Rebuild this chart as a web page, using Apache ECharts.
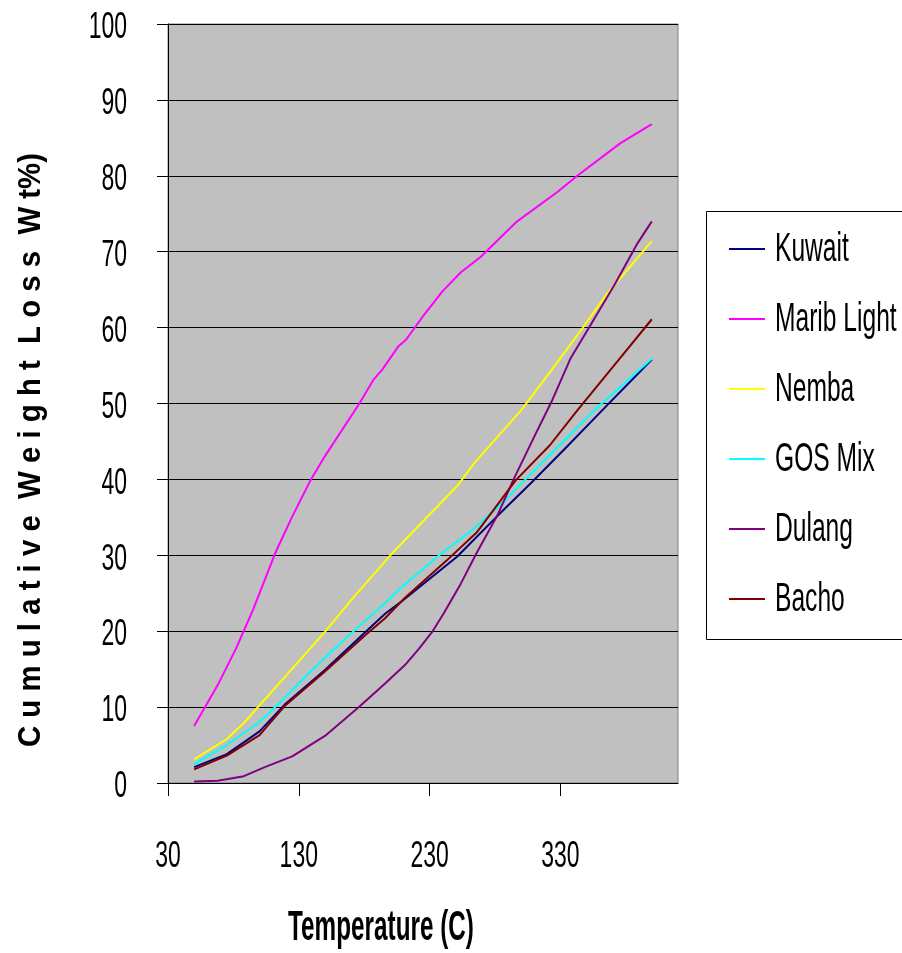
<!DOCTYPE html>
<html>
<head>
<meta charset="utf-8">
<script src="https://cdn.jsdelivr.net/npm/echarts@6/dist/echarts.min.js"></script>
<style>
html,body{margin:0;padding:0;background:#fff;}
#chart{width:902px;height:953px;}
</style>
</head>
<body>
<div id="chart"></div>
<script>
// ---- data (temperature °C, cumulative weight loss wt%) ----
const seriesNames = ['Kuwait', 'Marib Light', 'Nemba', 'GOS Mix', 'Dulang', 'Bacho'];
const seriesColors = ['#000080', '#FF00FF', '#FFFF00', '#00FFFF', '#800080', '#800000'];

const kuwaitT = [50, 75, 100, 119, 150, 181, 196, 210, 251, 282, 308, 335, 362, 400];
const kuwaitW = [2.1, 3.8, 6.8, 10.3, 14.9, 19.9, 22.3, 24.1, 29.8, 35.2, 39.6, 44.3, 49.1, 55.8];

const maribT = [50, 68, 82, 95, 112, 125, 139, 149, 176, 187, 194, 206, 212, 225, 240, 254, 269, 297, 328, 343, 376, 400];
const maribW = [7.5, 12.9, 17.7, 22.8, 30.3, 35.1, 39.9, 42.8, 49.9, 53.1, 54.5, 57.5, 58.4, 61.5, 64.8, 67.3, 69.3, 74.0, 77.9, 80.0, 84.3, 86.8];

const nembaT = [50, 75, 88, 150, 170, 200, 252, 264, 300, 325, 346, 366, 400];
const nembaW = [3.1, 5.8, 7.9, 19.9, 24.1, 30.0, 39.3, 42.1, 49.1, 54.8, 59.7, 64.5, 71.4];

const gosT = [50, 75, 99, 112, 139, 163, 196, 206, 238, 264, 287, 305, 330, 356, 400];
const gosW = [2.5, 5.0, 7.9, 10.0, 14.7, 18.6, 23.7, 25.4, 30.1, 33.5, 37.1, 40.3, 44.6, 49.1, 55.9];

const dulangT = [50, 68, 88, 104, 125, 150, 176, 196, 211, 222, 232, 241, 254, 266, 282, 294, 310, 324, 338, 352, 372, 389, 400];
const dulangW = [0.2, 0.3, 0.9, 2.1, 3.5, 6.2, 10.0, 13.1, 15.5, 17.7, 19.9, 22.4, 26.3, 30.3, 35.3, 39.9, 45.6, 50.5, 56.0, 60.0, 65.8, 71.1, 74.0];

const bachoT = [50, 75, 100, 119, 150, 181, 196, 210, 243, 266, 296, 322, 343, 371, 400];
const bachoW = [1.8, 3.6, 6.3, 10.1, 14.7, 19.5, 21.7, 24.2, 29.3, 33.0, 39.9, 44.5, 49.1, 55.0, 61.1];

const xTicks = [30, 130, 230, 330];
const yTicks = [0, 10, 20, 30, 40, 50, 60, 70, 80, 90, 100];

const xTitle = 'Temperature (C)';
const yTitle = 'C u m u l a t i v e  W e i g h t  L o s s  W t%)';

// ---- build ----
const temps = [kuwaitT, maribT, nembaT, gosT, dulangT, bachoT];
const vals = [kuwaitW, maribW, nembaW, gosW, dulangW, bachoW];
const zip = (a, b) => a.map((v, i) => [v, b[i]]);

const FONT = '"Liberation Sans", Arial, sans-serif';

const chart = echarts.init(document.getElementById('chart'), null, {renderer: 'canvas'});
chart.setOption({
  animation: false,
  backgroundColor: '#ffffff',
  grid: {
    left: 168, top: 24, right: 224, bottom: 170,
    show: true, backgroundColor: '#C0C0C0', borderColor: '#808080', borderWidth: 1,
    containLabel: false
  },
  xAxis: {
    type: 'value', min: 30, max: 420, interval: 100,
    axisLine: {show: true, onZero: false, lineStyle: {color: '#000', width: 1}},
    axisTick: {show: true, inside: false, length: 13, customValues: xTicks, lineStyle: {color: '#000'}},
    axisLabel: {show: false},
    splitLine: {show: false}
  },
  yAxis: {
    type: 'value', min: 0, max: 100, interval: 10,
    axisLine: {show: true, onZero: false, lineStyle: {color: '#000', width: 1}},
    axisTick: {show: true, inside: false, length: 11, lineStyle: {color: '#000'}},
    axisLabel: {show: false},
    splitLine: {show: true, lineStyle: {color: '#000', width: 1}}
  },
  series: seriesNames.map((n, i) => ({
    name: n, type: 'line', symbol: 'none', smooth: false,
    data: zip(temps[i], vals[i]),
    lineStyle: {color: seriesColors[i], width: 2},
    itemStyle: {color: seriesColors[i]}
  }))
});

// ---- text placed through the chart's own scales (narrow, tall lettering) ----
const gfx = [];
const LBL = {font: '28px ' + FONT, fill: '#000'};
xTicks.forEach(v => {
  const p = chart.convertToPixel({xAxisIndex: 0, yAxisIndex: 0}, [v, 0]);
  gfx.push({type: 'text', x: p[0], y: p[1] + 74, scaleX: 0.82, scaleY: 1.33,
    style: Object.assign({text: String(v), textAlign: 'center', textVerticalAlign: 'middle'}, LBL)});
});
yTicks.forEach(v => {
  const p = chart.convertToPixel({xAxisIndex: 0, yAxisIndex: 0}, [30, v]);
  gfx.push({type: 'text', x: p[0] - 41, y: p[1] + 4, scaleX: 0.82, scaleY: 1.33,
    style: Object.assign({text: String(v), textAlign: 'right', textVerticalAlign: 'middle'}, LBL)});
});

// legend (drawn from the series names/colours)
const LX = 706, LY = 211, LH = 428, ROW0 = 249, ROWGAP = 70;
gfx.push({type: 'rect', shape: {x: LX + 0.5, y: LY + 0.5, width: 300, height: LH},
  style: {fill: '#fff', stroke: '#000', lineWidth: 1}, z: 10});
seriesNames.forEach((n, i) => {
  const y = ROW0 + i * ROWGAP;
  gfx.push({type: 'line', shape: {x1: 729, y1: y, x2: 765, y2: y},
    style: {stroke: seriesColors[i], lineWidth: 2}, z: 11});
  gfx.push({type: 'text', x: 775, y: y + 1, scaleX: 0.82, scaleY: 1.38, z: 11,
    style: {text: n, font: '30px ' + FONT, fill: '#000', textAlign: 'left', textVerticalAlign: 'middle'}});
});

// axis titles
const ctx = document.createElement('canvas').getContext('2d');
ctx.font = 'bold 30px ' + FONT;
const yTitleW = ctx.measureText(yTitle).width;
gfx.push({type: 'text', x: 381, y: 928, scaleX: 0.81, scaleY: 1.4,
  style: {text: xTitle, font: 'bold 30px ' + FONT, fill: '#000', textAlign: 'center', textVerticalAlign: 'middle'}});
gfx.push({type: 'group', x: 31, y: 450, rotation: Math.PI / 2, children: [
  {type: 'text', x: 0, y: 0, scaleX: 594 / yTitleW, scaleY: 1.05,
    style: {text: yTitle, font: 'bold 30px ' + FONT, fill: '#000', textAlign: 'center', textVerticalAlign: 'middle'}}
]});

chart.setOption({graphic: gfx});
</script>
</body>
</html>
